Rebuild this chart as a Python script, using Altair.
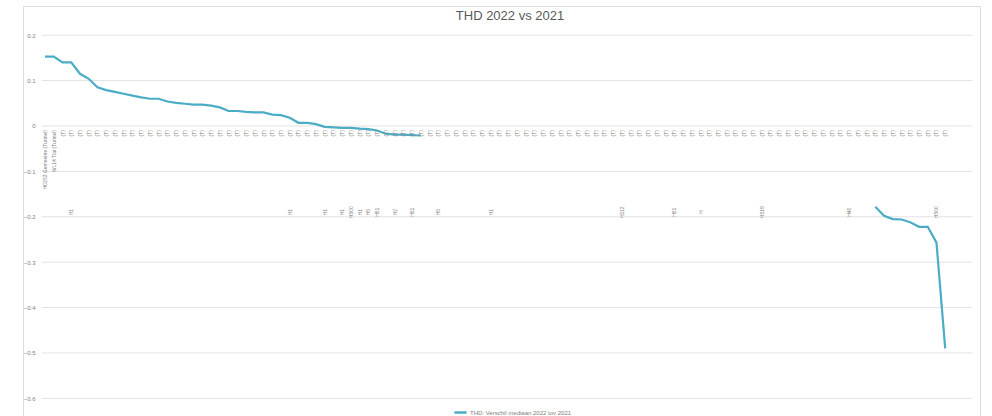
import altair as alt
import pandas as pd

title_text = "THD 2022 vs 2021"
series_name = "THD: Verschil mediaan 2022 tov 2021"

categories = ["H0253 Gemeente (Tunnel)", "WL14 Tlal (Tunnel)"] + ["(T)"] * 102

values = [0.153, 0.153, 0.14, 0.14, 0.115, 0.104, 0.085, 0.079, 0.075, 0.071,
          0.067, 0.063, 0.06, 0.06, 0.054, 0.051, 0.049, 0.047, 0.047, 0.045,
          0.041, 0.033, 0.033, 0.031, 0.03, 0.03, 0.025, 0.024, 0.018, 0.007,
          0.007, 0.004, -0.002, -0.003, -0.004, -0.004, -0.006, -0.007, -0.01, -0.017,
          -0.019, -0.019, -0.02, -0.021] + [None] * 51 + [
          -0.178, -0.198, -0.205, -0.206, -0.212, -0.222, -0.222, -0.257, -0.49]

sub_label_index = [3, 28, 32, 34, 35, 36, 37, 38, 40, 42, 45, 51, 66, 72, 75, 82, 92, 102]
sub_label_text = ["H1", "H1", "H1", "H1", "H500", "H1", "H5", "H51", "H2", "H51",
                  "H5", "H1", "H112", "H51", "H", "H519", "H40", "H500"]
sub_label_level = -0.19

y_ticks = [0.2, 0.1, 0, -0.1, -0.2, -0.3, -0.4, -0.5, -0.6]
grid_from, grid_to = -0.34, 106.1

# build tables
rows = []
seg = 0
prev_none = True
for i, v in enumerate(values):
    if v is None:
        prev_none = True
        continue
    if prev_none:
        seg += 1
        prev_none = False
    rows.append({"idx": i, "value": v, "segment": seg, "series": series_name})
line_df = pd.DataFrame(rows)
cat_df = pd.DataFrame({"idx": list(range(len(categories))), "label": categories, "y": 0.0})
sub_df = pd.DataFrame({"idx": sub_label_index, "label": sub_label_text, "y": sub_label_level})
grid_df = pd.DataFrame({"y": y_ticks, "x0": grid_from, "x1": grid_to})
title_df = pd.DataFrame({"t": [title_text]})

FONT = "Liberation Sans"
LBL = "#808080"
xscale = alt.Scale(domain=[-2.52, 106.98], nice=False, zero=False)
yscale = alt.Scale(domain=[-0.6388, 0.2643], nice=False, zero=False)
yaxis = alt.Axis(values=y_ticks, format=".1~f", offset=-14, labelPadding=2, domain=False,
                 ticks=False, grid=False, title=None, labelFontSize=6, labelColor=LBL,
                 labelFont=FONT)

grid = alt.Chart(grid_df).mark_rule(color="#e2e2e2", strokeWidth=1).encode(
    x=alt.X("x0:Q", scale=xscale, axis=None),
    x2="x1:Q",
    y=alt.Y("y:Q", scale=yscale, axis=yaxis),
)

line = alt.Chart(line_df).mark_line(strokeWidth=2.2).encode(
    x=alt.X("idx:Q", scale=xscale, axis=None),
    y=alt.Y("value:Q", scale=yscale, axis=yaxis),
    detail="segment:N",
    color=alt.Color("series:N", scale=alt.Scale(range=["#4bacc6"]), legend=alt.Legend(
        orient="none", legendX=430, legendY=399, title=None, symbolType="stroke",
        symbolSize=150, symbolStrokeWidth=2.5, labelFontSize=6, labelColor=LBL,
        labelFont=FONT, padding=0, labelOffset=2)),
)

cat_text = alt.Chart(cat_df).mark_text(
    angle=270, align="right", baseline="middle", dx=-4, fontSize=5, color=LBL, font=FONT
).encode(
    x=alt.X("idx:Q", scale=xscale, axis=None),
    y=alt.Y("y:Q", scale=yscale, axis=yaxis),
    text="label:N",
)

sub_text = alt.Chart(sub_df).mark_text(
    angle=270, align="center", baseline="middle", fontSize=5, color=LBL, font=FONT
).encode(
    x=alt.X("idx:Q", scale=xscale, axis=None),
    y=alt.Y("y:Q", scale=yscale, axis=yaxis),
    text="label:N",
)

title = alt.Chart(title_df).mark_text(
    fontSize=13, color="#595959", font=FONT, baseline="middle", align="center"
).encode(x=alt.value(487), y=alt.value(10), text="t:N")

chart = alt.layer(grid, line, cat_text, sub_text, title).properties(
    width=957, height=410,
    padding={"left": 23, "top": 6, "right": 12, "bottom": 0},
).configure_view(stroke="#d9d9d9", strokeWidth=1).configure(background="white")

chart.save("out.html", embed_options={"renderer": "svg", "actions": False})
